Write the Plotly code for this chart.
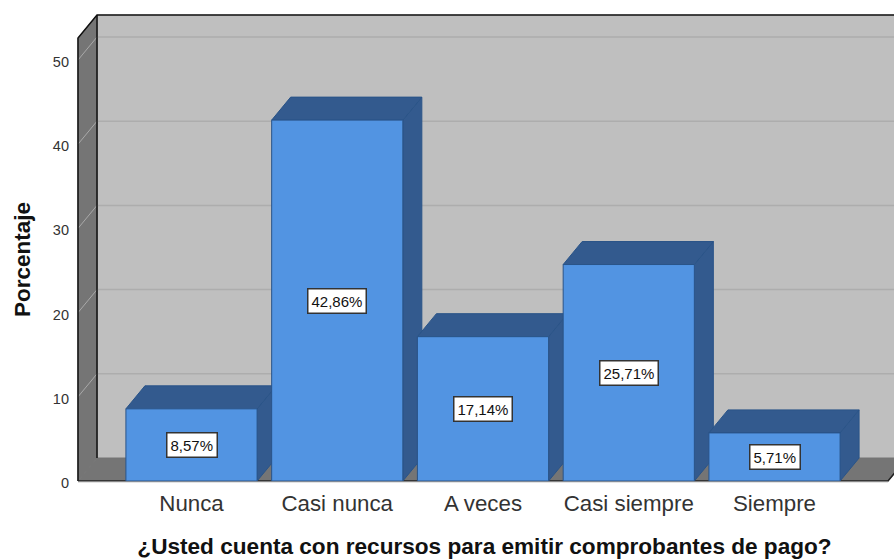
import plotly.graph_objects as go

categories = ["Nunca", "Casi nunca", "A veces", "Casi siempre", "Siempre"]
percentages = [8.57, 42.86, 17.14, 25.71, 5.71]
y_ticks = [0, 10, 20, 30, 40, 50]
x_title = "¿Usted cuenta con recursos para emitir comprobantes de pago?"
y_title = "Porcentaje"

# pseudo-3D projection, in axis units
BAR_W = 0.9
DX = 19 / 145.75
DY = 23 / 8.42
WALL_L = -113.5 / 145.75
FLOOR_R = (888 - 191.5) / 145.75
WALL_TOP = 52.6
XR = [-116.5 / 145.75, (894 - 191.5) / 145.75]
YR = [-3 / 8.42, (481 - 10) / 8.42]

WALL = "#bfbfbf"
SIDE = "#757575"
GRID = "#adadad"
GRID_L = "#a9a9a9"
FRONT = "#5294e2"
DARK = "#335a8e"
EDGE = "#2a5488"
INK = "#111111"

fig = go.Figure()


def poly(xs, ys, fill, line=None, width=1):
    fig.add_trace(go.Scatter(
        x=list(xs) + [xs[0]], y=list(ys) + [ys[0]], mode="lines", fill="toself",
        fillcolor=fill, line=dict(color=line or fill, width=width),
        hoverinfo="skip", showlegend=False))


def seg(xs, ys, color, width=1):
    fig.add_trace(go.Scatter(x=xs, y=ys, mode="lines", line=dict(color=color, width=width),
                             hoverinfo="skip", showlegend=False))


BACK_R = FLOOR_R + DX
poly([WALL_L + DX, BACK_R, BACK_R, WALL_L + DX],
     [DY, DY, WALL_TOP + DY, WALL_TOP + DY], WALL)
poly([WALL_L, WALL_L + DX, WALL_L + DX, WALL_L],
     [0, DY, WALL_TOP + DY, WALL_TOP], SIDE)
poly([WALL_L, FLOOR_R, BACK_R, WALL_L + DX], [0, 0, DY, DY], SIDE)

for t in y_ticks[1:]:
    seg([WALL_L, WALL_L + DX], [t, t + DY], GRID_L)
    seg([WALL_L + DX, BACK_R], [t + DY, t + DY], GRID, 1.5)

seg([WALL_L, WALL_L, WALL_L + DX, BACK_R], [0, WALL_TOP, WALL_TOP + DY, WALL_TOP + DY], INK, 1.5)
seg([WALL_L + DX, WALL_L + DX], [DY, WALL_TOP + DY], INK, 1.5)
seg([WALL_L, FLOOR_R, BACK_R], [0, 0, DY], "#222222", 1.5)

for i, v in enumerate(percentages):
    l, r = i - BAR_W / 2, i + BAR_W / 2
    poly([r, r + DX, r + DX, r], [0, DY, v + DY, v], DARK, EDGE)
    poly([l, r, r + DX, l + DX], [v, v, v + DY, v + DY], DARK, EDGE)
    poly([l, r, r, l], [0, 0, v, v], FRONT, EDGE)

seg([WALL_L, FLOOR_R], [-0.12, -0.12], "#c8c8c8", 1)

annotations = [dict(
    x=i, y=v / 2, xref="x", yref="y", showarrow=False,
    text=f"{v:.2f}%".replace(".", ","),
    font=dict(family="Liberation Sans", size=15, color="#111111"),
    bgcolor="#ffffff", bordercolor="#333333", borderwidth=1.5, borderpad=3)
    for i, v in enumerate(percentages)]

annotations.append(dict(
    text=y_title, xref="paper", yref="paper", x=-75 / 819 + 22 / 819, y=(484 - 260) / 474,
    xanchor="center", yanchor="middle", textangle=-90, showarrow=False,
    font=dict(size=22.5, color="#111111", family="Liberation Sans", weight="bold")))

fig.update_layout(
    width=894, height=559,
    margin=dict(l=75, r=0, t=10, b=75),
    paper_bgcolor="#ffffff", plot_bgcolor="#ffffff",
    showlegend=False, annotations=annotations,
    font=dict(family="Liberation Sans", color="#222222"),
    xaxis=dict(
        range=XR, tickmode="array", tickvals=list(range(len(categories))), ticktext=categories,
        showgrid=False, zeroline=False, showline=False, ticks="", ticklabelstandoff=4,
        tickfont=dict(size=22.3, color="#333333"),
        title=dict(text=x_title, standoff=26,
                   font=dict(size=22.6, color="#111111", family="Liberation Sans", weight="bold")),
        automargin=False, fixedrange=True),
    yaxis=dict(
        range=YR, tickmode="array", tickvals=y_ticks, ticklabelshift=2,
        showgrid=False, zeroline=False, showline=False, ticks="", ticklabelstandoff=5,
        tickfont=dict(size=14.5, color="#333333"),
        automargin=False, fixedrange=True),
)

fig.write_html("out.html", config=dict(displayModeBar=False),
               post_script="document.body.style.margin='0';document.body.style.overflow='hidden';")
